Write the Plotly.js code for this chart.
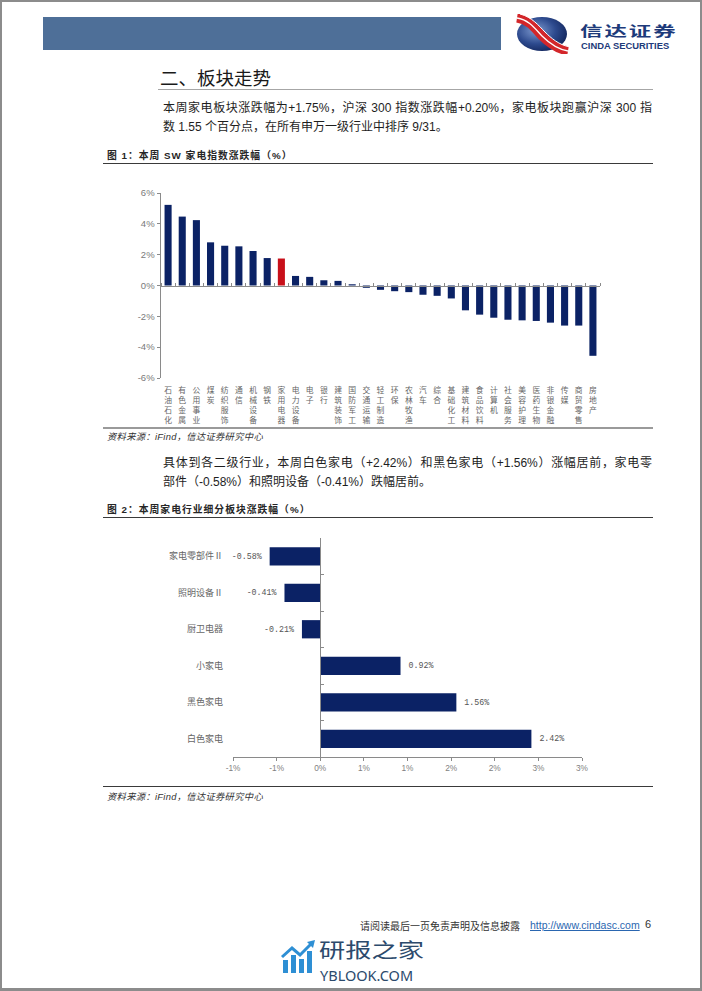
<!DOCTYPE html>
<html>
<head>
<meta charset="utf-8">
<script src="https://cdn.plot.ly/plotly-3.0.1.min.js"></script>
<style>
  html, body { margin: 0; padding: 0; background: #fff; }
  #page { position: relative; width: 702px; height: 991px; overflow: hidden; background: #fff;
          font-family: "Liberation Sans", "Noto Sans CJK SC", sans-serif; }
  #frame { position: absolute; left: 0; top: 0; width: 702px; height: 991px; box-sizing: border-box;
           border: 2px solid #8c8c8c; border-bottom-width: 3px; pointer-events: none; }
  .abs { position: absolute; white-space: nowrap; }
  .para { font-size: 12px; color: #1e1e1e; line-height: 16px; }
  .cap { font-size: 9.8px; font-weight: bold; color: #262626; letter-spacing: 1px; line-height: 12px; }
  .src { font-size: 9.3px; font-style: italic; color: #333; letter-spacing: 0.3px; line-height: 12px; }
  .rule { position: absolute; height: 0; }
</style>
</head>
<body>
<div id="page">
  <!-- header -->
  <div class="abs" style="left:43px; top:17px; width:458px; height:33px; background:#4e6f98;"></div>
  <svg class="abs" style="left:514px; top:14px;" width="56" height="40" viewBox="0 0 56 40">
    <defs>
      <radialGradient id="lg" cx="38%" cy="40%" r="65%">
        <stop offset="0%" stop-color="#7f9bd0"/>
        <stop offset="60%" stop-color="#2d4a8e"/>
        <stop offset="100%" stop-color="#14285f"/>
      </radialGradient>
    </defs>
    <ellipse cx="28" cy="20" rx="25" ry="17" fill="url(#lg)"/>
    <path d="M3,4 C16,6 22,16 28,22 C34,28 42,35 54,37" stroke="#d3262a" stroke-width="9" fill="none"/>
    <path d="M3,4 C16,6 22,16 28,22 C34,28 42,35 54,37" stroke="#ffffff" stroke-width="1.3" fill="none"/>
    <path d="M6,0 C18,3 25,12 31,18 C37,24 45,31 56,33" stroke="#ffffff" stroke-width="1" fill="none"/>
  </svg>
  <div class="abs" style="left:580px; top:21px; font-size:17px; line-height:17px; font-weight:bold; color:#1d3a7a; letter-spacing:1.5px; font-family:'Noto Sans CJK SC'; transform:scale(1.32, 0.8); transform-origin:left center;">信达证券</div>
  <div class="abs" style="left:581px; top:41px; font-size:9.4px; line-height:10px; font-weight:bold; color:#1d3a7a; font-family:'Liberation Sans';">CINDA SECURITIES</div>

  <!-- heading -->
  <div class="abs" style="left:160px; top:66px; font-size:18.5px; line-height:22px; color:#1a1a1a; font-family:'Noto Sans CJK SC';">二、板块走势</div>
  <div class="rule" style="left:158px; top:89px; width:495px; border-top:1px solid #a6a6a6;"></div>

  <div class="abs para" style="left:163px; top:100px; width:489px; white-space:normal; text-align:justify; text-align-last:justify;">本周家电板块涨跌幅为+1.75%，沪深 300 指数涨跌幅+0.20%，家电板块跑赢沪深 300 指</div>
  <div class="abs para" style="left:163px; top:119px;">数 1.55 个百分点，在所有申万一级行业中排序 9/31。</div>

  <!-- figure 1 -->
  <div class="abs cap" style="left:107px; top:150px;">图 1：本周 SW 家电指数涨跌幅（%）</div>
  <div class="rule" style="left:103px; top:163px; width:550px; border-top:1px solid #3a3a3a;"></div>
  <div id="chart1" class="abs" style="left:100px; top:180px; width:520px; height:245px;"></div>
  <div class="rule" style="left:103px; top:427px; width:550px; border-top:2px solid #9a9a9a;"></div>
  <div class="abs src" style="left:107px; top:431px;">资料来源：iFind，信达证券研究中心</div>

  <div class="abs para" style="left:163px; top:455px; width:489px; white-space:normal; text-align:justify; text-align-last:justify;">具体到各二级行业，本周白色家电（+2.42%）和黑色家电（+1.56%）涨幅居前，家电零</div>
  <div class="abs para" style="left:163px; top:474px;">部件（-0.58%）和照明设备（-0.41%）跌幅居前。</div>

  <!-- figure 2 -->
  <div class="abs cap" style="left:107px; top:504px;">图 2：本周家电行业细分板块涨跌幅（%）</div>
  <div class="rule" style="left:103px; top:517px; width:550px; border-top:1px solid #3a3a3a;"></div>
  <div id="chart2" class="abs" style="left:150px; top:530px; width:460px; height:250px;"></div>
  <div class="rule" style="left:103px; top:786px; width:550px; border-top:1px solid #3a3a3a;"></div>
  <div class="abs src" style="left:107px; top:791px;">资料来源：iFind，信达证券研究中心</div>

  <!-- footer -->
  <div class="abs" style="left:360px; top:919px; font-size:10px; line-height:13px; color:#333; font-family:'Noto Sans CJK SC';">请阅读最后一页免责声明及信息披露</div>
  <div class="abs" style="left:530px; top:919px; font-size:10.5px; line-height:13px; color:#2a66b0; text-decoration:underline;">http://www.cindasc.com</div>
  <div class="abs" style="left:645px; top:918px; font-size:11px; line-height:13px; color:#333;">6</div>

  <!-- watermark -->
  <svg class="abs" style="left:280px; top:940px;" width="36" height="34" viewBox="0 0 36 34">
    <rect x="3" y="20" width="5" height="13" fill="#2e8fd4"/>
    <rect x="11" y="15" width="5" height="18" fill="#2e8fd4"/>
    <rect x="19" y="19" width="5" height="14" fill="#2e8fd4"/>
    <rect x="27" y="11" width="5" height="22" fill="#2e8fd4"/>
    <polyline points="2,17 12,8 20,15 31,4" stroke="#2e8fd4" stroke-width="3" fill="none"/>
    <polygon points="27,2 35,0 33,8" fill="#2e8fd4"/>
  </svg>
  <div class="abs" style="left:319px; top:937px; font-size:25px; line-height:25px; color:#2c4a6c; font-family:'Noto Sans CJK SC'; transform:scale(1.05, 0.82); transform-origin:left center;">研报之家</div>
  <div class="abs" style="left:320px; top:968px; font-size:14.5px; line-height:15px; color:#2c4a6c; font-family:'Noto Sans';">YBLOOK.COM</div>

  <div id="frame"></div>
</div>

<script>
// ---------- Figure 1 data ----------
const industries = ['石油石化','有色金属','公用事业','煤炭','纺织服饰','通信','机械设备','钢铁','家用电器','电力设备',
                    '电子','银行','建筑装饰','国防军工','交通运输','轻工制造','环保','农林牧渔','汽车','综合',
                    '基础化工','建筑材料','食品饮料','计算机','社会服务','美容护理','医药生物','非银金融','传媒','商贸零售','房地产'];
const industryChange = [5.23, 4.47, 4.24, 2.80, 2.58, 2.54, 2.24, 1.78, 1.75, 0.62,
                        0.56, 0.34, 0.30, 0.08, -0.15, -0.28, -0.37, -0.43, -0.60, -0.67,
                        -0.84, -1.61, -1.89, -2.09, -2.22, -2.26, -2.30, -2.41, -2.60, -2.60, -4.56];
const highlightIndustry = '家用电器';
const yTickVals1 = [-6, -4, -2, 0, 2, 4, 6];
const yTickText1 = ['-6%', '-4%', '-2%', '0%', '2%', '4%', '6%'];

// ---------- Figure 2 data ----------
const subSectors = ['家电零部件Ⅱ', '照明设备Ⅱ', '厨卫电器', '小家电', '黑色家电', '白色家电'];
const subChange = [-0.58, -0.41, -0.21, 0.92, 1.56, 2.42];
const xTickVals2 = [-1, -0.5, 0, 0.5, 1, 1.5, 2, 2.5, 3];
const xTickText2 = ['-1%', '-1%', '0%', '1%', '1%', '2%', '2%', '3%', '3%'];

const NAVY = '#0b2265';
const RED = '#c8101a';
const AXIS = '#8a8a8a';

// ---------- Chart 1 ----------
const n1 = industries.length;
const bounds1 = [];
for (let i = 0; i <= n1; i++) bounds1.push(i - 0.5);

Plotly.newPlot('chart1', [
  {
    type: 'bar', x: industries, y: industryChange,
    marker: { color: industries.map(c => c === highlightIndustry ? RED : NAVY) },
    hoverinfo: 'x+y', showlegend: false
  },
  {
    type: 'scatter', mode: 'markers', x: [0], y: [0], xaxis: 'x2', yaxis: 'y',
    marker: { opacity: 0 }, hoverinfo: 'skip', showlegend: false
  }
], {
  width: 520, height: 245,
  margin: { l: 61, r: 20, t: 13, b: 47 },
  paper_bgcolor: 'rgba(0,0,0,0)', plot_bgcolor: 'rgba(0,0,0,0)',
  bargap: 0.5,
  xaxis: {
    type: 'category', range: [-0.5, n1 - 0.5],
    tickmode: 'array', tickvals: industries,
    ticktext: industries.map(s => s.split('').join('<br>')),
    tickangle: 0, ticks: '', showline: false, showgrid: false, zeroline: false,
    tickfont: { family: 'Noto Sans CJK SC', size: 7.8, color: '#666' },
    ticklabelstandoff: 6,
    automargin: false
  },
  xaxis2: {
    overlaying: 'x', anchor: 'free', position: 0.5, side: 'top',
    range: [-0.5, n1 - 0.5], tickmode: 'array', tickvals: bounds1,
    ticks: 'outside', ticklen: 3, tickwidth: 1, tickcolor: AXIS,
    showticklabels: false, showline: true, linecolor: AXIS, linewidth: 1.5,
    showgrid: false, zeroline: false
  },
  yaxis: {
    range: [-6, 6], tickmode: 'array', tickvals: yTickVals1, ticktext: yTickText1,
    showline: true, linecolor: AXIS, linewidth: 1.5,
    ticks: 'outside', ticklen: 3, tickcolor: AXIS,
    showgrid: false, zeroline: false,
    tickfont: { family: 'Liberation Sans', size: 9.5, color: '#7a7a7a' },
    automargin: false
  }
}, { staticPlot: true, displayModeBar: false });

// ---------- Chart 2 ----------
const n2 = subSectors.length;
const bounds2 = [];
for (let i = 0; i <= n2; i++) bounds2.push(i - 0.5);

Plotly.newPlot('chart2', [
  {
    type: 'bar', orientation: 'h', y: subSectors, x: subChange,
    marker: { color: NAVY },
    text: subChange.map(v => v < 0 ? v.toFixed(2) + '%\u00a0' : '\u00a0' + v.toFixed(2) + '%'),
    textposition: 'outside', cliponaxis: false, constraintext: 'none',
    textfont: { family: 'Liberation Mono', size: 8.3, color: '#555' },
    hoverinfo: 'y+x', showlegend: false
  },
  {
    type: 'scatter', mode: 'markers', x: [0], y: [0], xaxis: 'x', yaxis: 'y2',
    marker: { opacity: 0 }, hoverinfo: 'skip', showlegend: false
  }
], {
  width: 460, height: 250,
  margin: { l: 83, r: 28, t: 8, b: 23 },
  paper_bgcolor: 'rgba(0,0,0,0)', plot_bgcolor: 'rgba(0,0,0,0)',
  bargap: 0.5,
  xaxis: {
    range: [-1, 3], tickmode: 'array', tickvals: xTickVals2, ticktext: xTickText2,
    showline: true, linecolor: AXIS, linewidth: 1.2,
    ticks: 'outside', ticklen: 3, tickcolor: AXIS,
    showgrid: false, zeroline: false,
    tickfont: { family: 'Liberation Sans', size: 8.3, color: '#7f7f7f' },
    automargin: false
  },
  yaxis: {
    type: 'category', range: [n2 - 0.5, -0.5],
    showline: false, ticks: '', showgrid: false, zeroline: false,
    tickfont: { family: 'Noto Sans CJK SC', size: 9, color: '#666' },
    ticklabelstandoff: 9,
    automargin: false
  },
  yaxis2: {
    overlaying: 'y', anchor: 'free', position: 0.25, side: 'left',
    range: [n2 - 0.5, -0.5], tickmode: 'array', tickvals: bounds2,
    ticks: 'inside', ticklen: 3, tickcolor: AXIS,
    showticklabels: false, showline: true, linecolor: AXIS, linewidth: 1.2,
    showgrid: false, zeroline: false
  }
}, { staticPlot: true, displayModeBar: false });
</script>
</body>
</html>
